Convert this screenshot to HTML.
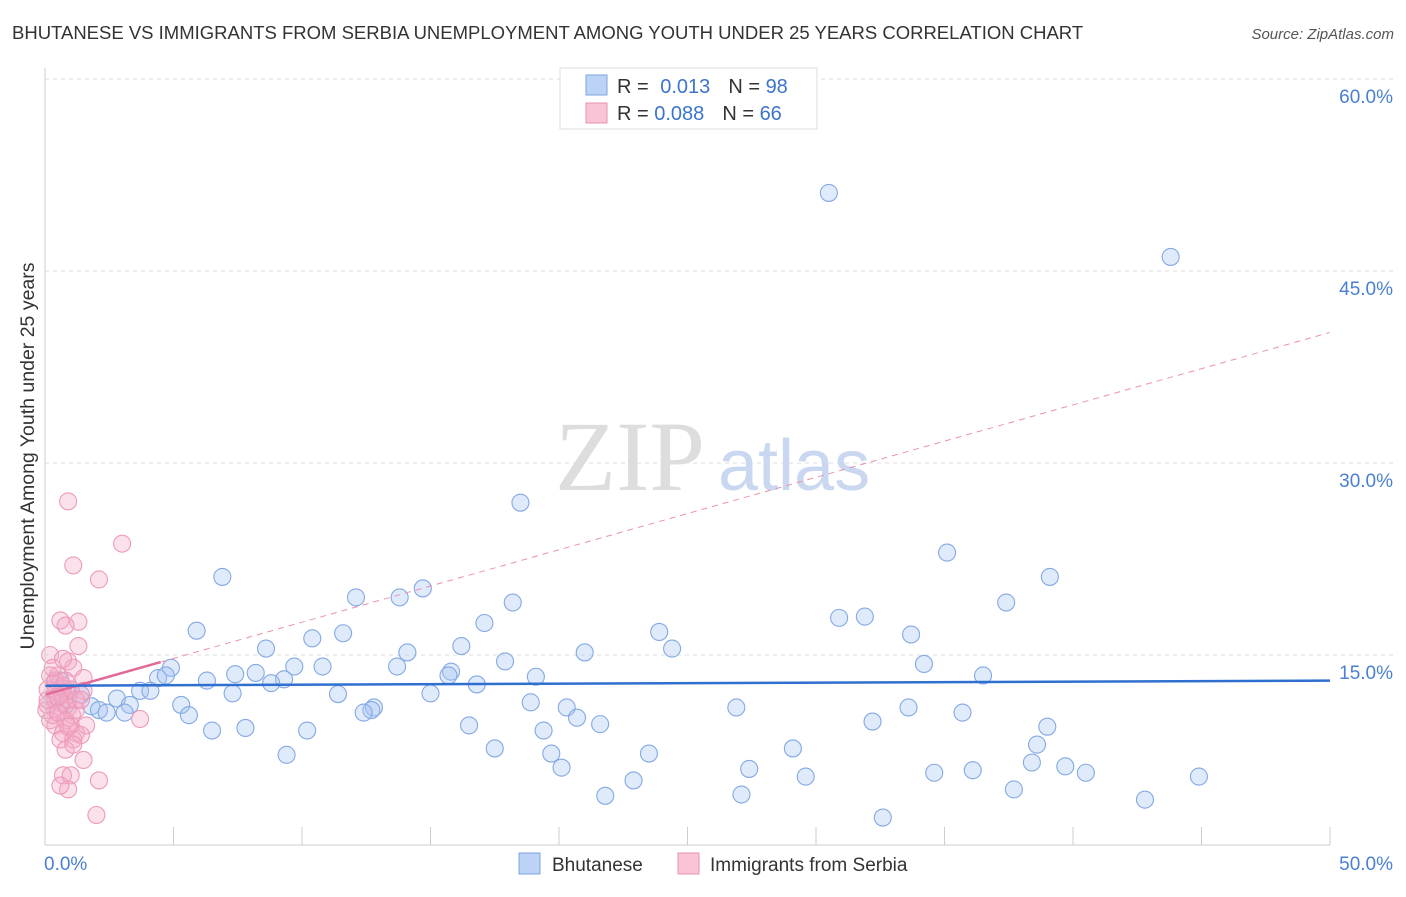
<!DOCTYPE html>
<html><head><meta charset="utf-8"><style>
body{margin:0;background:#fff;font-family:"Liberation Sans",sans-serif;}
svg text{font-family:"Liberation Sans",sans-serif;}
</style></head><body>
<svg id="chart" width="1406" height="892" xmlns="http://www.w3.org/2000/svg">
<text x="12" y="39" font-size="18.5" fill="#333">BHUTANESE VS IMMIGRANTS FROM SERBIA UNEMPLOYMENT AMONG YOUTH UNDER 25 YEARS CORRELATION CHART</text>
<text x="1394" y="39" font-size="15" fill="#555" font-style="italic" text-anchor="end">Source: ZipAtlas.com</text>
<g id="grid"></g>
<text x="555" y="490" font-size="100" fill="#ddd" font-family="Liberation Serif" style="font-family:'Liberation Serif',serif">ZIP</text>
<text x="718" y="490" font-size="72" fill="#c9d8f0">atlas</text>
<g id="pts"></g>
<g id="axes"></g>
<text transform="translate(34,456) rotate(-90)" font-size="19.5" fill="#333" text-anchor="middle">Unemployment Among Youth under 25 years</text>
<g>
<rect x="560" y="68" width="257" height="61" fill="#fff" stroke="#ddd"/>
<rect x="586" y="75" width="21" height="20" fill="#bcd3f5" stroke="#7ba3e0"/>
<rect x="586" y="103" width="21" height="20" fill="#f9c5d6" stroke="#e991b0"/>
<text x="617" y="93" font-size="20" fill="#333">R = <tspan fill="#3d74cc" dx="6">0.013</tspan><tspan dx="18" fill="#333">N = </tspan><tspan fill="#3d74cc">98</tspan></text>
<text x="617" y="120" font-size="20" fill="#333">R = <tspan fill="#3d74cc">0.088</tspan><tspan dx="18" fill="#333">N = </tspan><tspan fill="#3d74cc">66</tspan></text>
</g>
<g>
<rect x="519" y="853" width="21" height="21" fill="#bcd3f5" stroke="#7ba3e0"/>
<text x="552" y="871" font-size="19" fill="#333">Bhutanese</text>
<rect x="678" y="853" width="21" height="21" fill="#f9c5d6" stroke="#e991b0"/>
<text x="710" y="871" font-size="19" fill="#333">Immigrants from Serbia</text>
</g>
</svg>
<script>
const yTicks=[15,30,45,60];
const yTickLabels=["15.0%","30.0%","45.0%","60.0%"];
const xTickLabels=["0.0%","50.0%"];
const blueX=[30.5,43.8,18.5,35.1,6.9,39.1,14.7,12.1,13.8,18.2,37.4,30.9,31.9,17.1,5.9,23.9,11.6,33.7,10.4,16.2,8.6,14.1,21.0,24.4,4.9,13.7,9.7,10.8,34.2,17.9,7.4,8.2,15.8,15.7,19.1,36.5,4.4,4.7,6.3,9.3,8.8,16.8,3.7,4.1,7.3,11.4,15.0,1.4,2.8,1.8,5.3,3.3,2.1,2.4,3.1,5.6,18.9,20.3,26.9,33.6,12.8,12.7,12.4,20.7,21.6,32.2,35.7,16.5,19.4,6.5,7.8,10.2,39.0,38.6,17.5,29.1,19.7,23.5,9.4,38.4,20.1,27.4,39.7,36.1,34.6,29.6,40.5,44.9,22.9,21.8,27.1,37.7,42.8,32.6,0.6,1.0,0.4,0.8];
const blueY=[51.1,46.1,26.9,23.0,21.1,21.1,20.2,19.5,19.5,19.1,19.1,17.9,18.0,17.5,16.9,16.8,16.7,16.6,16.3,15.7,15.5,15.2,15.2,15.5,14.0,14.1,14.1,14.1,14.3,14.5,13.5,13.6,13.7,13.4,13.3,13.4,13.2,13.4,13.0,13.1,12.8,12.7,12.2,12.2,12.0,11.95,12.0,11.9,11.6,11.0,11.1,11.1,10.7,10.5,10.5,10.3,11.3,10.9,10.9,10.9,10.9,10.7,10.5,10.1,9.6,9.8,10.5,9.5,9.1,9.1,9.3,9.1,9.4,8.0,7.7,7.7,7.3,7.3,7.2,6.6,6.2,6.1,6.3,6.0,5.8,5.5,5.8,5.5,5.2,4.0,4.1,4.5,3.7,2.3,13.0,12.3,11.5,11.1];
const pinkX=[0.9,3.0,1.1,2.1,0.6,1.3,0.8,1.3,0.9,1.1,0.2,0.5,1.5,0.35,0.7,0.1,0.4,0.7,1.5,0.3,0.6,0.9,0.05,0.5,1.05,0.2,0.8,0.4,1.0,3.7,0.7,1.2,0.6,1.1,1.4,0.2,0.4,0.7,0.9,1.0,0.1,0.3,1.2,1.6,0.8,1.5,0.7,1.0,2.1,0.9,0.6,2.0,0.1,0.5,0.8,1.2,1.4,0.3,0.5,0.7,1.1,0.9];
const pinkY=[27.0,23.7,22.0,20.9,17.7,17.6,17.3,15.7,14.5,14.0,13.4,13.4,13.2,12.8,12.6,12.3,12.1,11.9,12.2,11.6,11.25,10.9,10.7,10.5,10.3,9.9,9.9,9.5,9.5,10.0,8.9,8.9,8.4,8.4,8.75,15.0,13.0,12.4,11.5,12.3,11.1,10.3,11.5,9.5,7.6,6.8,5.6,5.6,5.2,4.5,4.8,2.5,11.5,11.7,13.0,10.7,11.5,14.0,10.5,14.7,8.0,9.4];
const blueFit=[12.6,13.0];
const pinkFit=[11.9,40.2];
const NS="http://www.w3.org/2000/svg";
const X=v=>45+v*25.7, Y=v=>847-v*12.8;
function mk(tag,attrs,parent){const e=document.createElementNS(NS,tag);for(const k in attrs)e.setAttribute(k,attrs[k]);parent.appendChild(e);return e;}
const grid=document.getElementById('grid'),axes=document.getElementById('axes'),pts=document.getElementById('pts');
yTicks.forEach((t,i)=>{
 const l=mk('line',{x1:45,x2:1395,y1:Y(t),y2:Y(t),stroke:'#ddd','stroke-dasharray':'4,4'},grid);
 
 
 const tx=mk('text',{x:1393,y:Y(t)+24,'font-size':19,fill:'#4a7fd4','text-anchor':'end'},axes);
 tx.textContent=yTickLabels[i];
 
 
});
mk('line',{x1:45,x2:1330,y1:845,y2:845,stroke:'#ccc'},axes);
mk('line',{x1:45,x2:45,y1:68,y2:845,stroke:'#ccc'},axes);
for(let i=0;i<=10;i++){const t=mk('line',{x1:X(i*5),x2:X(i*5),y1:827,y2:845,stroke:'#ccc'},axes);
 
 }
const xl0=mk('text',{x:44,y:870,'font-size':19,fill:'#4a7fd4'},axes);xl0.textContent=xTickLabels[0];


const xl1=mk('text',{x:1393,y:870,'font-size':19,fill:'#4a7fd4','text-anchor':'end'},axes);xl1.textContent=xTickLabels[1];


blueX.forEach((v,i)=>{const c=mk('circle',{cx:X(v),cy:Y(blueY[i]),r:8.5,fill:'rgba(164,194,244,0.35)',stroke:'#84a9e2','stroke-width':1.1},pts);
 
 });
pinkX.forEach((v,i)=>{const c=mk('circle',{cx:X(v),cy:Y(pinkY[i]),r:8.5,fill:'rgba(244,170,200,0.35)',stroke:'#ec9bb8','stroke-width':1.1},pts);
 
 });
const pd=mk('line',{x1:X(0),y1:Y(pinkFit[0]),x2:X(50),y2:Y(pinkFit[1]),stroke:'#e991b0','stroke-dasharray':'6,5','stroke-width':1},pts);


const ps=mk('line',{x1:X(0),y1:Y(pinkFit[0]),x2:X(4.5),y2:Y(pinkFit[0]+(pinkFit[1]-pinkFit[0])*4.5/50),stroke:'#e06a98','stroke-width':2.5},pts);


const bl=mk('line',{x1:X(0),y1:Y(blueFit[0]),x2:X(50),y2:Y(blueFit[1]),stroke:'#2f6fd0','stroke-width':2.5},pts);


</script>
</body></html>
